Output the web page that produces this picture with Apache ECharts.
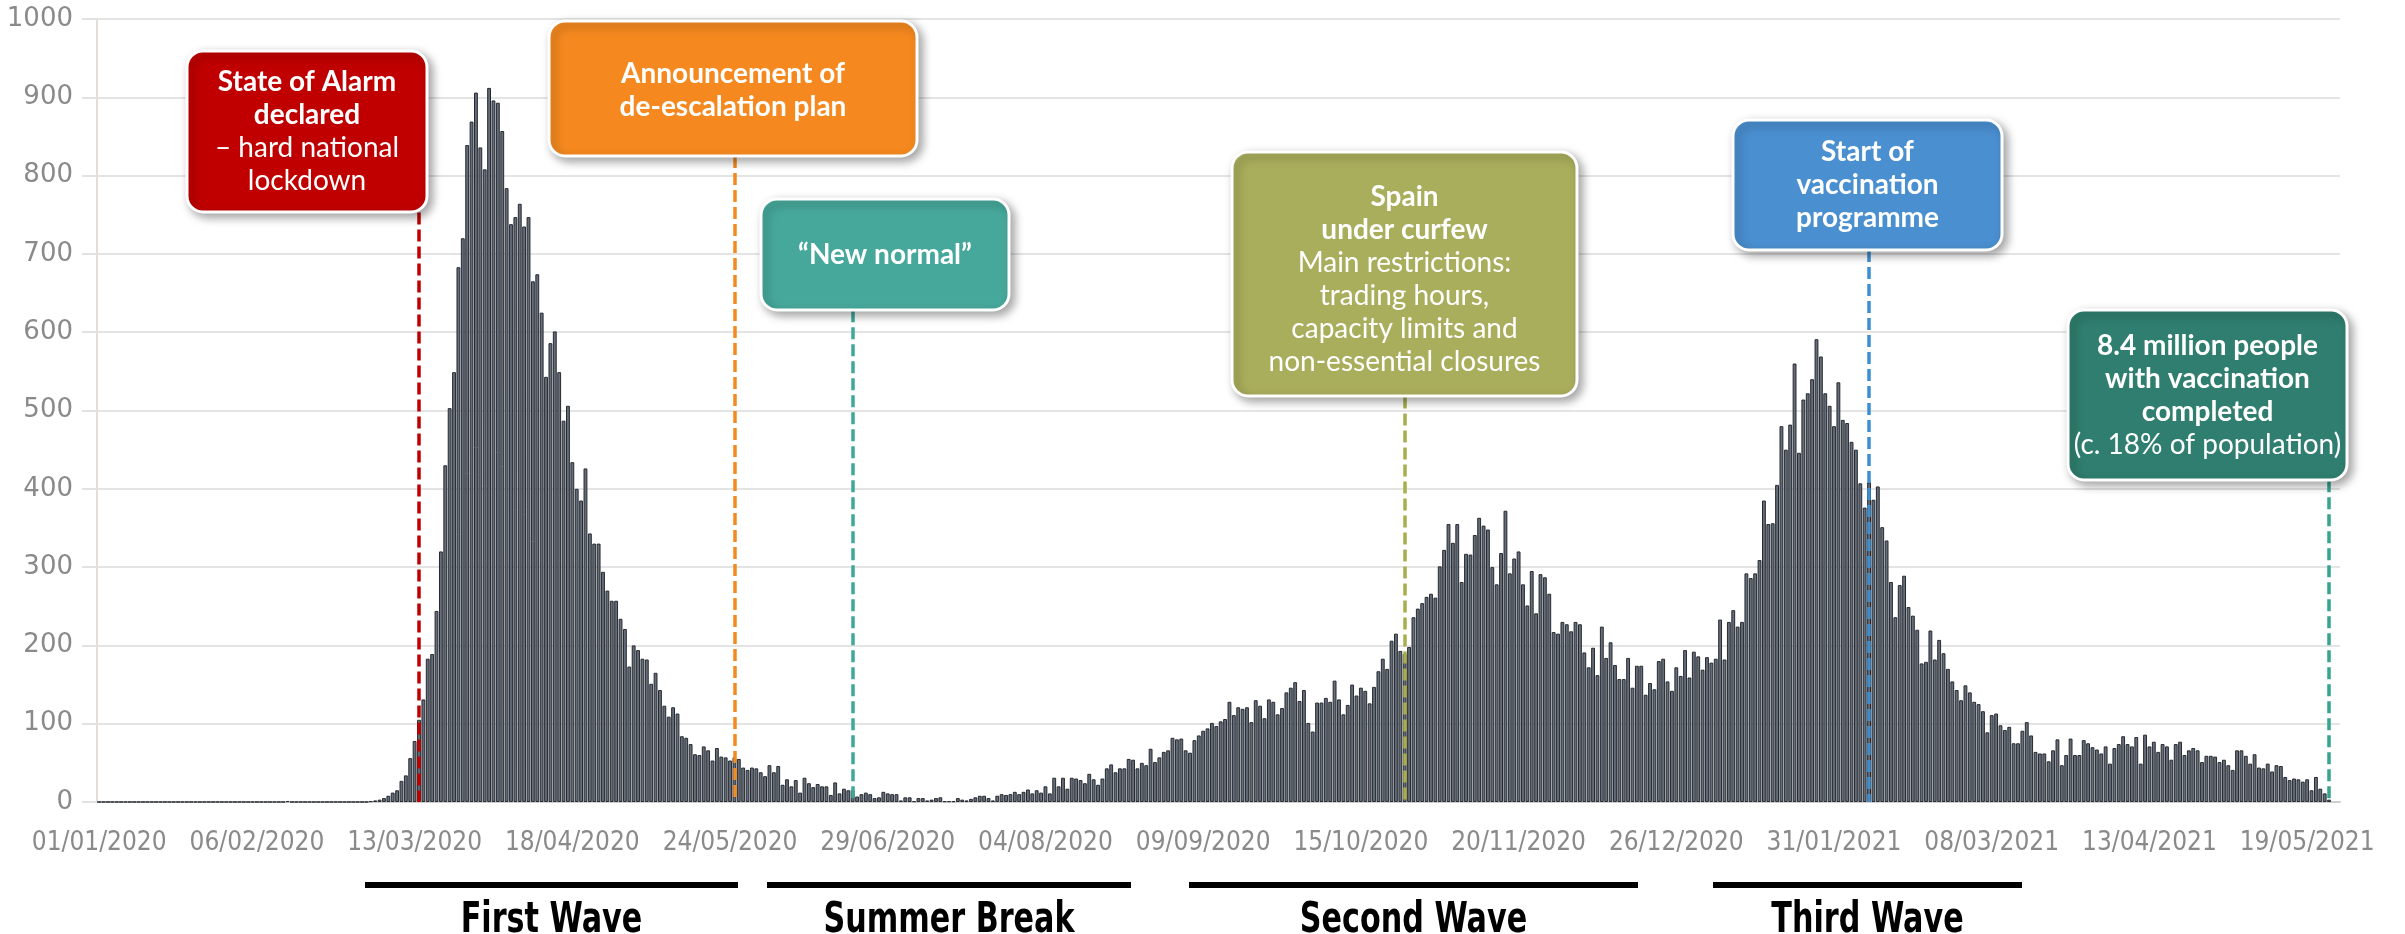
<!DOCTYPE html>
<html>
<head>
<meta charset="utf-8">
<script src="https://cdn.jsdelivr.net/npm/echarts@6/dist/echarts.min.js"></script>
<style>
html, body { margin: 0; padding: 0; background: #fff; }
#chart { width: 2405px; height: 934px; }
</style>
</head>
<body>
<div id="chart"></div>
<script>
// Daily COVID-19 deaths in Spain, one array per calendar month (day 1 first)
const jan2020 = [0,0,0,0,0,0,0,0,0,0,0,0,0,0,0,0,0,0,0,0,0,0,0,0,0,0,0,0,0,0,0];
const feb2020 = [0,0,0,0,0,0,0,0,0,0,0,0,1,0,0,0,0,0,0,0,0,0,0,0,0,0,0,0,0];
const mar2020 = [0,0,1,2,3,5,8,12,15,27,34,56,78,105,131,183,189,244,320,430,503,549,683,720,839,869,906,836,808,912,896];
const apr2020 = [893,857,784,738,747,764,735,747,665,674,625,543,586,601,549,487,506,434,400,385,426,343,330,330,294,270,257,257,234,221];
const may2020 = [173,200,194,183,182,151,165,143,123,109,121,113,84,82,74,61,60,71,66,53,69,58,57,53,57,55,44,41,44,43,38];
const jun2020 = [33,47,38,46,22,29,20,28,12,31,24,19,23,20,20,9,25,11,17,15,15,7,10,12,10,5,6,13,11,10];
const jul2020 = [10,2,6,6,1,5,5,2,3,5,6,1,1,1,5,3,2,4,6,8,8,5,2,8,10,9,10,13,10,13,16];
const aug2020 = [11,15,12,20,11,31,20,31,17,31,30,28,24,36,29,22,30,43,48,38,43,43,55,54,43,50,47,68,51,57,64];
const sep2020 = [66,82,80,81,66,63,79,85,91,94,101,97,103,106,128,111,121,119,121,102,130,123,107,131,128,112,120,140,146,153];
const oct2020 = [129,143,101,90,127,127,133,128,155,131,112,124,150,136,146,142,126,147,167,183,170,206,215,193,189,198,236,247,254,262,266];
const nov2020 = [261,301,322,355,331,355,281,317,316,341,363,353,348,300,278,318,372,292,311,320,278,251,295,241,291,287,266,217,215,230];
const dec2020 = [227,218,230,227,191,172,197,162,224,184,204,175,157,157,184,146,174,174,137,152,144,180,183,154,142,172,161,194,159,192,186];
const jan2021 = [169,185,178,183,233,182,230,245,224,230,292,286,292,309,385,355,356,405,480,450,482,560,446,514,522,540,591,569,522,506,480];
const feb2021 = [536,488,484,460,450,407,376,408,386,403,351,334,281,236,277,289,249,238,220,177,179,219,182,207,190,170,154,143];
const mar2021 = [130,149,140,128,125,116,89,111,113,98,92,96,75,75,91,102,85,64,62,62,52,66,80,47,60,81,60,60,79,75,70];
const apr2021 = [67,62,71,49,69,74,84,74,71,83,49,86,71,77,64,74,71,54,74,77,60,66,69,66,51,59,59,58,51,54];
const may2021 = [47,41,66,66,59,49,61,44,43,49,39,47,46,32,28,30,29,26,29,15,32,17,11,3];

const dailyDeaths = [].concat(jan2020, feb2020, mar2020, apr2020, may2020, jun2020, jul2020,
  aug2020, sep2020, oct2020, nov2020, dec2020, jan2021, feb2021, mar2021, apr2021, may2021);

// Date categories, 01/01/2020 to 26/05/2021
const firstDay = new Date(Date.UTC(2020, 0, 1));
const lastDay = new Date(Date.UTC(2021, 4, 26));
const dates = [];
for (let t = firstDay.getTime(); t <= lastDay.getTime(); t += 86400000) {
  const d = new Date(t);
  const dd = String(d.getUTCDate()).padStart(2, '0');
  const mm = String(d.getUTCMonth() + 1).padStart(2, '0');
  dates.push(dd + '/' + mm + '/' + d.getUTCFullYear());
}

// Key events: date of the dashed marker and the value where it meets its callout
const eventDates = ['14/03/2020', '25/05/2020', '21/06/2020', '25/10/2020', '08/02/2021', '24/05/2021'];
const eventTops = [753, 825, 628, 518, 705, 411];
const eventColors = ['#c00000', '#f28a22', '#3fa897', '#a7ae4a', '#3d8fd3', '#36a48f'];

// Callout boxes: each line is [text, bold]
const callouts = [
  { box: [187, 51, 240, 161], fill: '#c00000', shift: 0,
    lines: [['State of Alarm', true], ['declared', true], ['\u2013 hard national', false], ['lockdown', false]] },
  { box: [549, 21, 368, 135], fill: '#f5891f', shift: 2,
    lines: [['Announcement of', true], ['de-escalation plan', true]] },
  { box: [761, 199, 248, 111], fill: '#46a89b', shift: 0,
    lines: [['\u201CNew normal\u201D', true]] },
  { box: [1232, 152, 345, 244], fill: '#a9ae5c', shift: 5,
    lines: [['Spain', true], ['under curfew', true], ['Main restrictions:', false], ['trading hours,', false],
            ['capacity limits and', false], ['non-essential closures', false]] },
  { box: [1733, 120, 269, 130], fill: '#4a8fd0', shift: 0,
    lines: [['Start of', true], ['vaccination', true], ['programme', true]] },
  { box: [2068, 310, 279, 170], fill: '#2f7e6f', shift: 0,
    lines: [['8.4 million people', true], ['with vaccination', true], ['completed', true], ['(c. 18% of population)', false]] }
];

// Period labels under the axis: [label, x from, x to]
const periods = [
  ['First Wave', 365, 738],
  ['Summer Break', 767, 1131],
  ['Second Wave', 1189, 1638],
  ['Third Wave', 1713, 2022]
];

const LINE_H = 33;
const calloutFont = 'Lato, "Open Sans", sans-serif';

const graphics = [];
callouts.forEach(function (c) {
  const [x, y, w, h] = c.box;
  graphics.push({
    type: 'rect', z: 100,
    shape: { x: x, y: y, width: w, height: h, r: 16 },
    style: { fill: c.fill, stroke: '#ffffff', lineWidth: 3,
             shadowBlur: 10, shadowOffsetX: 4, shadowOffsetY: 4, shadowColor: 'rgba(0,0,0,0.35)' }
  });
  const cx = x + w / 2;
  const startY = y + h / 2 + c.shift - (c.lines.length - 1) * LINE_H / 2;
  c.lines.forEach(function (ln, i) {
    graphics.push({
      type: 'text', z: 101,
      style: { text: ln[0], x: cx, y: startY + i * LINE_H, fill: '#ffffff',
               font: (ln[1] ? 'bold ' : '') + '28px ' + calloutFont,
               textAlign: 'center', textVerticalAlign: 'middle' }
    });
  });
});
periods.forEach(function (p) {
  graphics.push({
    type: 'rect', z: 100,
    shape: { x: p[1], y: 882, width: p[2] - p[1], height: 6 },
    style: { fill: '#000000' }
  });
  graphics.push({
    type: 'text', z: 100,
    x: (p[1] + p[2]) / 2, y: 942, scaleX: 0.8,
    style: { text: p[0], x: 0, y: 0, fill: '#000000',
             font: 'bold 42px "DejaVu Sans Condensed", "DejaVu Sans", sans-serif',
             textAlign: 'center', textVerticalAlign: 'bottom' }
  });
});

const markLines = eventDates.map(function (d, i) {
  return [
    { coord: [d, eventTops[i]], lineStyle: { color: eventColors[i] } },
    { coord: [d, 0] }
  ];
});

const chart = echarts.init(document.getElementById('chart'), null, { renderer: 'canvas' });
chart.setOption({
  animation: false,
  backgroundColor: '#ffffff',
  grid: { left: 97, right: 65, top: 19, bottom: 132, outerBoundsMode: 'none' },
  xAxis: {
    type: 'category',
    data: dates,
    boundaryGap: true,
    axisLine: { lineStyle: { color: '#cfcfcf', width: 2 } },
    axisTick: { show: false },
    axisLabel: {
      interval: 35, color: '#8a8a8a', fontSize: 26, margin: 28,
      showMinLabel: true, hideOverlap: false,
      fontFamily: '"DejaVu Sans Condensed", sans-serif'
    },
    splitLine: { show: false }
  },
  yAxis: {
    type: 'value', min: 0, max: 1000, interval: 100,
    axisLine: { show: true, lineStyle: { color: '#e4ded6', width: 2 } },
    axisTick: { show: true, length: 15, lineStyle: { color: '#e2e2e2', width: 2 } },
    axisLabel: {
      color: '#8a8a8a', fontSize: 26, margin: 24, fontFamily: '"DejaVu Sans", sans-serif',
      formatter: function (v) { return String(v); }
    },
    splitLine: { lineStyle: { color: '#e4e4e4', width: 2 } }
  },
  series: [{
    type: 'bar',
    data: dailyDeaths,
    barCategoryGap: '12%',
    itemStyle: { color: '#646d79', borderColor: '#262a30', borderWidth: 1 },
    markLine: {
      silent: true,
      symbol: 'none',
      label: { show: false },
      lineStyle: { type: [12, 5], width: 3.5 },
      data: markLines
    }
  }],
  graphic: graphics
});
</script>
</body>
</html>
